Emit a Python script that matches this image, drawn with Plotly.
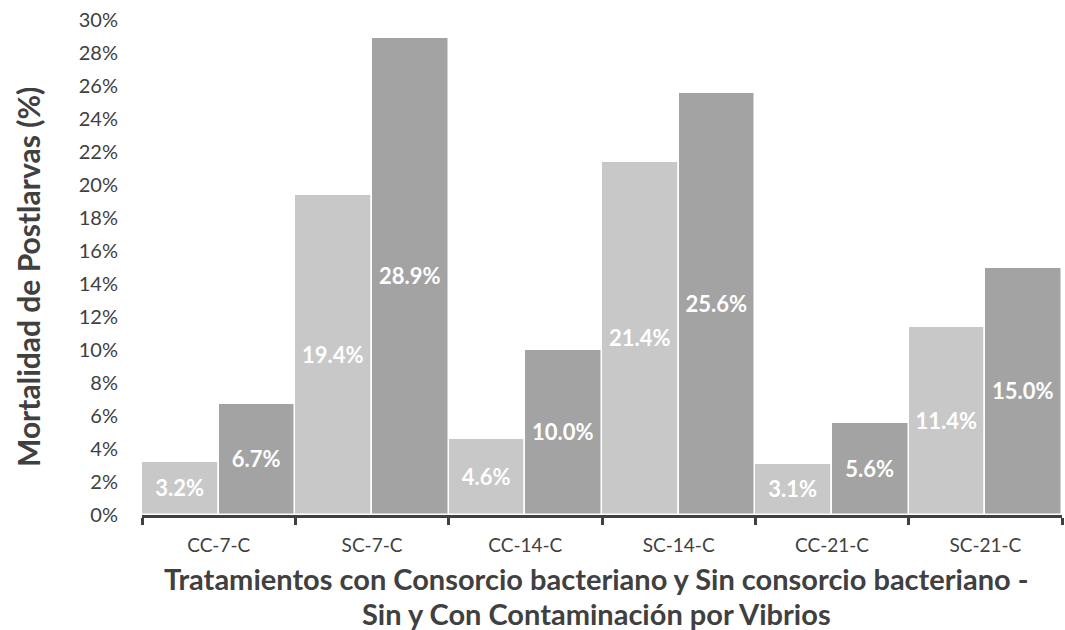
import plotly.graph_objects as go

categories = ["CC-7-C", "SC-7-C", "CC-14-C", "SC-14-C", "CC-21-C", "SC-21-C"]
serie_sin = [3.2, 19.4, 4.6, 21.4, 3.1, 11.4]
serie_con = [6.7, 28.9, 10.0, 25.6, 5.6, 15.0]
y_ticks = list(range(0, 31, 2))
y_tick_labels = [f"{v}%" for v in y_ticks]
y_title = "Mortalidad de Postlarvas (%)"
x_title_lines = ["Tratamientos con Consorcio bacteriano y Sin consorcio bacteriano -",
                 "Sin y Con Contaminación por Vibrios"]

FONT = "Lato, Carlito, Calibri, sans-serif"
DARK = "#404040"

W, H = 1065, 630
L, R, T, B = 142, 3, 20, 115
PW, PH = W - L - R, H - T - B

def px_x(px):
    return (px - L) / PW

def px_y(py):
    return (H - B - py) / PH

fig = go.Figure()
for vals, color in [(serie_sin, "#C8C8C8"), (serie_con, "#A3A3A3")]:
    fig.add_trace(go.Bar(
        x=categories, y=vals,
        marker=dict(color=color, line=dict(color="white", width=1.5)),
        texttemplate="<b>%{y:.1f}%</b>",
        textposition="inside", insidetextanchor="middle",
        textfont=dict(family=FONT, size=22, color="white"),
        constraintext="none", textangle=0,
        hoverinfo="skip", showlegend=False,
    ))

fig.update_layout(
    width=W, height=H,
    margin=dict(l=L, r=R, t=T, b=B),
    paper_bgcolor="white", plot_bgcolor="white",
    barmode="group", bargap=0, bargroupgap=0,
    font=dict(family=FONT, color=DARK, size=19),
)
fig.update_xaxes(
    showline=True, linewidth=3, linecolor=DARK,
    ticks="outside", tickson="boundaries", ticklen=7, tickwidth=3, tickcolor=DARK,
    ticklabelstandoff=11,
    tickfont=dict(family=FONT, size=19, color=DARK),
    showgrid=False, automargin=False,
)
fig.update_yaxes(
    range=[0, 30], tickvals=y_ticks, ticktext=y_tick_labels,
    showgrid=False, zeroline=False, showline=False,
    ticks="", ticklabelstandoff=23,
    tickfont=dict(family=FONT, size=20, color=DARK),
    automargin=False,
)
fig.add_annotation(
    text=f"<b>{y_title}</b>", textangle=-90,
    xref="paper", yref="paper", x=px_x(28), y=px_y(277), xanchor="center", yanchor="middle",
    showarrow=False, font=dict(family=FONT, size=30, color=DARK),
)
for line, py in zip(x_title_lines, [578, 613]):
    fig.add_annotation(
        text=f"<b>{line}</b>",
        xref="paper", yref="paper", x=px_x(596), y=px_y(py), xanchor="center", yanchor="middle",
        showarrow=False, font=dict(family=FONT, size=29, color=DARK),
    )
fig.write_html(
    "out.html",
    config={"displayModeBar": False},
    post_script="document.body.style.margin='0';document.body.style.overflow='hidden';",
)
